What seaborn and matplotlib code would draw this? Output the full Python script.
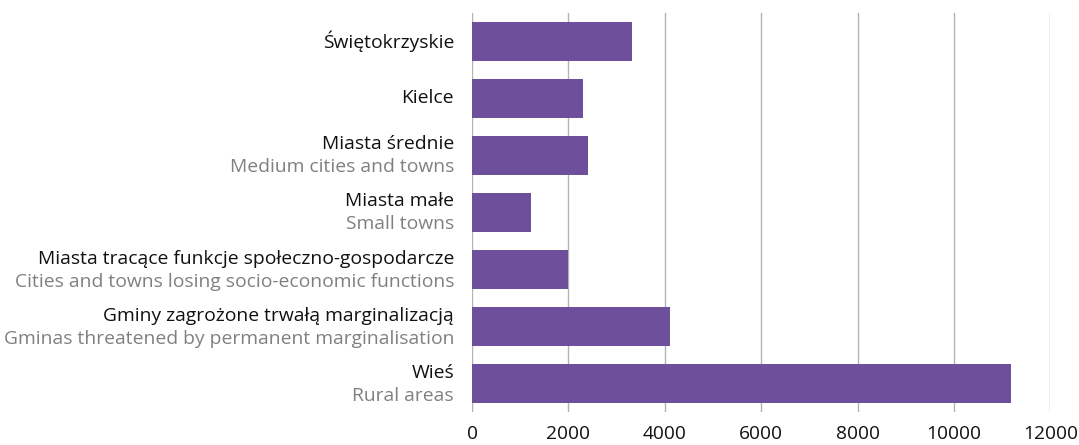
import matplotlib
matplotlib.use("Agg")
import matplotlib.pyplot as plt
import seaborn as sns
import pandas as pd

# Category labels (Polish and English) and values
labels_pl = [
    "Świętokrzyskie",
    "Kielce",
    "Miasta średnie",
    "Miasta małe",
    "Miasta tracące funkcje społeczno-gospodarcze",
    "Gminy zagrożone trwałą marginalizacją",
    "Wieś",
]
labels_en = [
    "",
    "",
    "Medium cities and towns",
    "Small towns",
    "Cities and towns losing socio-economic functions",
    "Gminas threatened by permanent marginalisation",
    "Rural areas",
]
values = [3320, 2300, 2410, 1220, 1990, 4100, 11180]
x_ticks = [0, 2000, 4000, 6000, 8000, 10000, 12000]

df = pd.DataFrame({"category": labels_pl, "value": values})

sns.set_theme(style="white")
plt.rcParams["font.family"] = ["Open Sans", "DejaVu Sans"]

fig = plt.figure(figsize=(10.79, 4.45), dpi=100)
ax = fig.add_axes([0.4375, 0.074, 0.9735 - 0.4375, 0.971 - 0.074])

sns.barplot(data=df, y="category", x="value", orient="h", color="#6d4f9c",
            saturation=1, width=0.68, linewidth=0, ax=ax)

ax.set_xlim(0, 12000)
ax.set_ylim(6.5, -0.5)
ax.set_xticks(x_ticks)
ax.set_xticklabels([str(t) for t in x_ticks], fontsize=13.8, color="#111111")
ax.tick_params(axis="x", length=0, pad=9)
ax.set_yticks([])
ax.set_xlabel("")
ax.set_ylabel("")
for s in ax.spines.values():
    s.set_visible(False)
for t in x_ticks:
    ax.axvline(t, color="#b3b3b3", lw=1, zorder=0)
ax.set_axisbelow(True)

# Two-line category labels: Polish in black, English in grey
fs = 13.9
for i, (pl, en) in enumerate(zip(labels_pl, labels_en)):
    if en:
        ax.annotate(pl, xy=(0, i), xycoords=("axes fraction", "data"),
                    xytext=(-18, 11), textcoords="offset pixels",
                    ha="right", va="center", fontsize=fs, color="#111111")
        ax.annotate(en, xy=(0, i), xycoords=("axes fraction", "data"),
                    xytext=(-18, -12), textcoords="offset pixels",
                    ha="right", va="center", fontsize=fs, color="#808080")
    else:
        ax.annotate(pl, xy=(0, i), xycoords=("axes fraction", "data"),
                    xytext=(-18, 0), textcoords="offset pixels",
                    ha="right", va="center", fontsize=fs, color="#111111")

fig.savefig("out.png", dpi=100)
